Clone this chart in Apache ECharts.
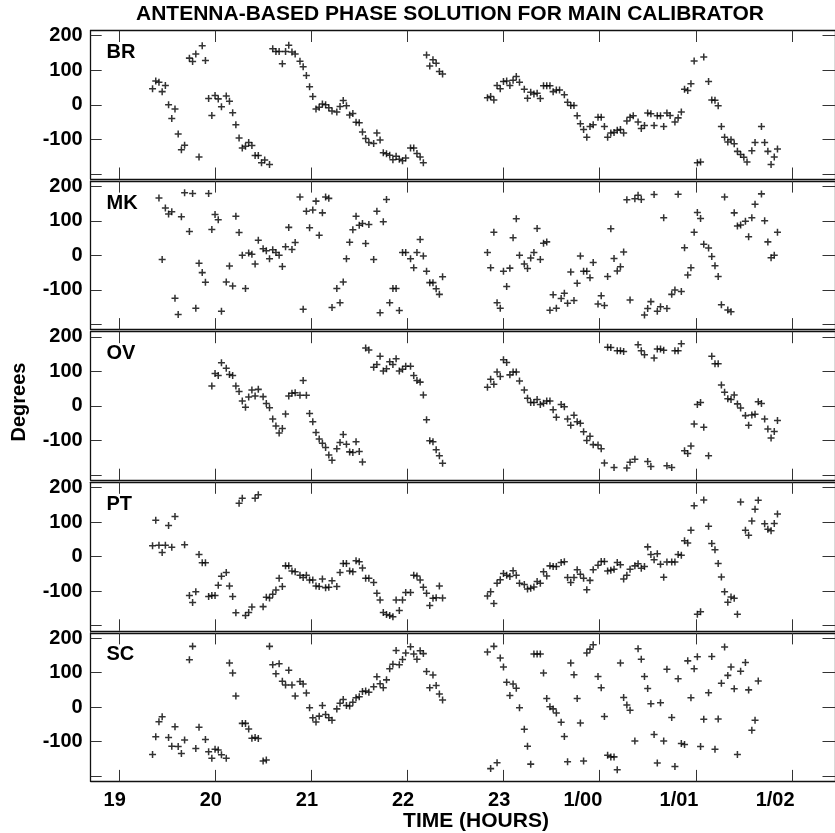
<!DOCTYPE html>
<html>
<head>
<meta charset="utf-8">
<script src="https://cdn.jsdelivr.net/npm/echarts@6/dist/echarts.min.js"></script>
<style>
html,body{margin:0;padding:0;background:#fff;}
#chart{width:835px;height:833px;}
</style>
</head>
<body>
<div id="chart"></div>
<script>
// ---- data (time = minutes after 19:00, phase = degrees) ----
const ANTENNAS = ['BR', 'MK', 'OV', 'PT', 'SC'];
const HOUR_TICKS = [0, 60, 120, 180, 240, 300, 360, 420];
const HOUR_LABELS = ['19', '20', '21', '22', '23', '1/00', '1/01', '1/02'];
const PHASE_TICKS = [-200, -100, 0, 100, 200];
const PHASE_LABELS = [-100, 0, 100, 200];

const BR = [[21,46],[23,69],[25,65],[27,38],[29,56],[31,0],[33,-40],[35,-12],[37,-85],[39,-130],[41,-117],[44,135],[46,125],[48,147],[50,-151],[52,171],[54,128],[56,18],[58,-31],[60,27],[62,17],[64,-6],[67,25],[69,10],[71,-23],[73,-58],[75,-96],[77,-125],[79,-120],[81,-109],[83,-118],[85,-147],[87,-147],[89,-168],[91,-160],[94,-173],[96,162],[98,154],[100,154],[102,119],[104,154],[106,172],[108,153],[110,147],[113,126],[115,110],[117,85],[119,52],[121,24],[123,-12],[125,-7],[127,2],[129,0],[131,-9],[133,-18],[136,-21],[138,-5],[140,12],[142,-3],[144,-30],[146,-25],[148,-51],[150,-52],[152,-79],[154,-98],[156,-109],[159,-112],[161,-82],[163,-102],[165,-139],[167,-142],[169,-146],[171,-159],[173,-149],[175,-158],[177,-162],[179,-154],[182,-125],[184,-125],[186,-141],[188,-151],[190,-168],[192,144],[194,112],[196,130],[198,120],[200,96],[202,89],
[230,20],[232,24],[234,14],[236,56],[238,46],[240,67],[242,69],[244,56],[246,71],[248,82],[250,65],[253,45],[255,19],[257,36],[259,31],[261,33],[263,18],[265,55],[267,55],[269,55],[271,38],[273,43],[275,43],[278,29],[280,7],[282,-2],[284,-2],[286,-32],[288,-55],[290,-72],[292,-94],[294,-63],[296,-58],[299,-36],[301,-36],[303,-63],[305,-94],[307,-82],[309,-80],[311,-74],[313,-72],[315,-82],[317,-47],[319,-36],[321,-32],[324,-50],[326,-69],[328,-60],[330,-24],[332,-26],[334,-60],[336,-32],[338,-32],[340,-63],[342,-24],[344,-31],[347,-50],[349,-38],[351,-21],[353,45],[355,41],[357,61],[359,127],[361,-168],[363,-166],[365,138],[368,67],[370,14],[372,13],[374,-3],[376,-63],[378,-94],[380,-108],[382,-101],[384,-113],[386,-135],[388,-144],[390,-152],[392,-166],[395,-133],[397,-109],[401,-63],[403,-109],[405,-135],[407,-173],[409,-151],[411,-128]];

const MK = [[25,166],[27,-12],[29,137],[31,120],[33,126],[35,-124],[37,-171],[39,112],[41,181],[44,69],[46,179],[48,-153],[50,-23],[52,-50],[54,-78],[56,179],[58,75],[60,118],[62,103],[64,-162],[67,-77],[69,-31],[71,-89],[73,113],[75,66],[77,0],[79,-96],[81,7],[83,3],[85,-25],[87,44],[90,19],[92,13],[94,-10],[96,16],[98,8],[100,0],[102,-32],[104,25],[106,81],[108,17],[110,37],[113,169],[115,-156],[117,128],[119,80],[121,131],[123,157],[125,58],[127,123],[129,169],[131,165],[133,-151],[136,-96],[138,-137],[140,-77],[142,-10],[144,38],[146,74],[148,113],[150,87],[152,92],[154,34],[156,89],[159,-12],[161,128],[163,-166],[165,97],[167,162],[169,-137],[171,-96],[173,-96],[175,-160],[177,8],[179,8],[182,-10],[184,-36],[186,8],[188,46],[190,-2],[192,-46],[194,-79],[196,-79],[198,-97],[200,-113],[202,-62],
[230,8],[232,-36],[234,67],[236,-137],[238,-153],[240,-46],[242,-90],[244,-37],[246,51],[248,106],[250,0],[253,-25],[255,-38],[257,-8],[259,8],[261,78],[263,-12],[265,35],[267,39],[269,-159],[271,-114],[273,-153],[276,-125],[278,-110],[280,-139],[282,-48],[284,-131],[286,-81],[288,-2],[290,-46],[292,-46],[294,-65],[296,-21],[299,-141],[301,-117],[303,-145],[305,-61],[307,77],[309,-9],[311,-45],[313,-33],[315,10],[317,161],[319,-129],[322,164],[324,174],[326,162],[328,-173],[330,-154],[332,-134],[334,176],[336,-162],[338,-149],[340,109],[342,-154],[345,-113],[347,-100],[349,177],[351,-105],[353,22],[355,-57],[357,-36],[359,67],[361,124],[363,107],[365,32],[368,21],[370,-3],[372,-30],[374,-61],[376,-143],[378,169],[380,-158],[382,-163],[384,123],[386,85],[388,88],[391,99],[393,54],[395,109],[397,148],[401,178],[403,100],[405,39],[407,-7],[409,0],[411,67]];

const OV = [[58,58],[60,94],[62,88],[64,125],[67,109],[69,91],[71,88],[73,58],[75,42],[77,14],[79,-4],[81,26],[83,46],[85,29],[87,48],[90,27],[92,7],[94,-5],[96,-38],[98,-58],[100,-78],[102,-65],[104,-23],[106,29],[108,37],[110,38],[113,31],[115,74],[117,31],[119,-22],[121,-46],[123,-77],[125,-96],[127,-108],[129,-120],[131,-142],[133,-157],[136,-124],[138,-106],[140,-83],[142,-111],[144,-133],[146,-135],[148,-104],[150,-132],[152,-162],[154,168],[156,162],[159,112],[161,120],[163,144],[165,101],[167,108],[169,128],[171,120],[173,137],[175,101],[177,106],[179,115],[182,115],[184,88],[186,74],[188,69],[190,32],[192,-40],[194,-101],[196,-104],[198,-127],[200,-144],[202,-166],
[230,54],[232,77],[234,63],[236,98],[238,85],[240,134],[242,126],[244,90],[246,98],[248,98],[250,72],[253,46],[255,22],[257,10],[259,10],[261,19],[263,4],[265,8],[267,14],[269,14],[271,-11],[273,-33],[276,4],[278,-2],[280,-38],[282,-56],[284,-27],[286,-46],[288,-50],[290,-75],[292,-100],[294,-88],[296,-112],[299,-113],[301,-124],[303,-165],[305,170],[307,169],[309,-178],[311,160],[313,160],[315,158],[317,-180],[319,-163],[322,-154],[324,177],[326,160],[328,148],[330,-161],[332,-175],[334,139],[336,165],[338,165],[340,161],[342,-173],[345,-178],[347,160],[349,160],[351,180],[353,-130],[355,-138],[357,-116],[359,-52],[361,4],[363,10],[365,-62],[368,-144],[370,144],[372,122],[374,122],[376,61],[378,40],[380,21],[382,19],[384,32],[386,6],[388,-6],[391,-28],[393,-56],[395,-26],[397,-24],[399,12],[401,7],[403,-38],[405,-67],[407,-93],[409,-74],[411,-42]];

const PT = [[21,31],[23,105],[25,33],[27,12],[29,33],[31,90],[33,27],[35,116],[41,34],[44,-113],[46,-133],[48,-102],[50,6],[52,-18],[54,-18],[56,-116],[58,-113],[60,-113],[62,-83],[64,-57],[67,-46],[69,-85],[71,-116],[73,-163],[75,154],[77,169],[79,-171],[81,-162],[83,-146],[85,169],[87,179],[90,-145],[92,-118],[94,-120],[96,-109],[98,-97],[100,-63],[102,-87],[104,-27],[106,-27],[108,-42],[110,-44],[113,-54],[115,-61],[117,-54],[119,-68],[121,-68],[123,-85],[125,-87],[127,-65],[129,-90],[131,-89],[133,-70],[136,-87],[138,-46],[140,-20],[142,-20],[144,-42],[146,-44],[148,-12],[150,-15],[152,-33],[154,-63],[156,-63],[159,-75],[161,-106],[163,-126],[165,-162],[167,-168],[169,-171],[171,-174],[173,-126],[175,-156],[177,-126],[179,-104],[182,-104],[184,-54],[186,-56],[188,-68],[190,-89],[192,-106],[194,-142],[196,-121],[198,-119],[200,-85],[202,-120],
[230,-114],[232,-102],[234,-136],[236,-77],[238,-67],[240,-49],[242,-54],[244,-58],[246,-41],[248,-54],[250,-77],[253,-81],[255,-94],[257,-92],[259,-88],[261,-72],[263,-77],[265,-44],[267,-56],[269,-27],[271,-29],[273,-29],[276,-17],[278,-15],[280,-61],[282,-75],[284,-61],[286,-38],[288,-51],[290,-63],[292,-96],[294,-69],[296,-38],[299,-25],[301,-14],[303,-14],[305,-42],[307,-40],[309,-37],[311,-17],[313,-24],[315,-65],[317,-54],[319,-37],[322,-27],[324,-21],[326,-34],[328,-29],[330,28],[332,6],[334,-9],[336,8],[338,-22],[340,-60],[342,-16],[345,-16],[347,-16],[349,6],[351,4],[353,46],[355,39],[357,76],[359,147],[361,-167],[363,-160],[365,164],[368,88],[370,38],[372,20],[374,-20],[376,-59],[378,-102],[380,-132],[382,-117],[384,-121],[386,-167],[388,158],[391,76],[393,62],[395,103],[397,137],[399,163],[403,95],[405,79],[407,75],[409,96],[411,123]];

const SC = [[21,-137],[23,-86],[25,-42],[27,-28],[31,-88],[33,-113],[35,-57],[37,-114],[39,-134],[41,-95],[44,137],[46,176],[48,-120],[50,-58],[54,-94],[56,-129],[58,-148],[60,-122],[62,-124],[64,-138],[67,-148],[69,128],[71,99],[73,32],[77,-47],[79,-47],[81,-63],[83,-90],[85,-88],[87,-91],[90,-156],[92,-153],[94,176],[96,123],[98,97],[100,126],[102,75],[104,64],[106,107],[108,64],[110,32],[113,74],[115,67],[117,41],[119,-2],[121,-31],[123,-43],[125,-26],[127,5],[129,-21],[131,-31],[133,-38],[136,-5],[138,11],[140,22],[142,5],[144,3],[146,14],[148,27],[150,30],[152,45],[154,47],[156,43],[159,59],[161,88],[163,68],[165,56],[167,79],[169,111],[171,124],[173,164],[175,123],[177,138],[179,157],[182,175],[184,154],[186,139],[188,163],[190,155],[192,103],[194,56],[196,93],[198,63],[200,38],[202,21],
[230,160],[232,-178],[234,176],[236,-161],[238,142],[240,116],[242,72],[244,34],[246,67],[248,55],[250,-2],[253,-64],[255,-113],[257,-165],[259,154],[261,154],[263,154],[265,99],[267,25],[269,1],[271,-5],[273,-17],[276,-44],[278,-85],[280,-158],[282,128],[284,94],[286,25],[288,-46],[290,-156],[292,157],[294,168],[296,181],[299,89],[301,56],[303,-27],[305,-139],[307,-144],[309,-144],[311,-181],[313,128],[315,28],[317,6],[319,-9],[322,-98],[324,169],[326,139],[328,89],[330,54],[332,10],[334,-79],[336,-162],[338,13],[340,-98],[342,110],[345,-30],[347,-172],[349,82],[351,-105],[353,-108],[355,134],[357,27],[359,111],[361,146],[363,-114],[365,-35],[368,42],[370,147],[372,-122],[374,-34],[376,69],[378,174],[380,92],[382,116],[384,53],[386,-137],[388,104],[391,129],[393,50],[395,-67],[397,-38],[399,76]];

const SERIES_DATA = [BR, MK, OV, PT, SC];

// ---- layout ----
const FONT = '"Liberation Sans", Arial, Helvetica, sans-serif';
const LEFT = 90.7, WIDTH = 746.8, TOP0 = 30.5, PITCH = 150.6, H = 148.5;
const XMIN = -17.6, XMAX = 446.9, YMIN = -215, YMAX = 215;
const LINE = {color: '#111', width: 1.3};
const TICK = {color: '#333', width: 1};
const PLUS = 'path://M2.35,0H3.65V2.35H6V3.65H3.65V6H2.35V3.65H0V2.35H2.35Z';

const grids = [], xAxes = [], yAxes = [], series = [], graphics = [];
ANTENNAS.forEach((name, i) => {
  const top = TOP0 + PITCH * i;
  grids.push({left: LEFT, top: top, width: WIDTH, height: H});
  const last = i === ANTENNAS.length - 1;
  xAxes.push({
    type: 'value', gridIndex: i, position: 'bottom', min: XMIN, max: XMAX,
    axisLine: {show: true, onZero: false, lineStyle: LINE},
    axisTick: {show: true, inside: true, length: 11.5, lineStyle: TICK, customValues: HOUR_TICKS},
    splitLine: {show: false},
    axisLabel: {
      show: last, margin: 9, customValues: HOUR_TICKS,
      formatter: v => {
        const lab = HOUR_LABELS[HOUR_TICKS.indexOf(Math.round(v))] || '';
        return lab.length > 2 ? '{b|' + lab + '}' : '{a|' + lab + '}';
      },
      rich: {
        a: {fontSize: 20, fontWeight: 'bold', fontFamily: FONT, color: '#000', padding: [0, 8.5, 0, 0]},
        b: {fontSize: 20, fontWeight: 'bold', fontFamily: FONT, color: '#000', padding: [0, 33.5, 0, 0]}
      }
    }
  });
  xAxes.push({
    type: 'value', gridIndex: i, position: 'top', min: XMIN, max: XMAX,
    axisLine: {show: true, onZero: false, lineStyle: LINE},
    axisTick: {show: true, inside: true, length: 11.5, lineStyle: TICK, customValues: HOUR_TICKS},
    splitLine: {show: false}, axisLabel: {show: false}
  });
  yAxes.push({
    type: 'value', gridIndex: i, position: 'left', min: YMIN, max: YMAX,
    axisLine: {show: true, onZero: false, lineStyle: LINE},
    axisTick: {show: true, inside: true, length: 11, lineStyle: TICK, customValues: PHASE_TICKS},
    splitLine: {show: false},
    axisLabel: {show: true, margin: 8, customValues: PHASE_LABELS, fontSize: 20, fontWeight: 'bold', fontFamily: FONT, color: '#000'}
  });
  yAxes.push({
    type: 'value', gridIndex: i, position: 'right', min: YMIN, max: YMAX,
    axisLine: {show: true, onZero: false, lineStyle: LINE},
    axisTick: {show: true, inside: true, length: 12.5, lineStyle: TICK, customValues: PHASE_TICKS},
    splitLine: {show: false}, axisLabel: {show: false}
  });
  series.push({
    type: 'scatter', name: name, xAxisIndex: 2 * i, yAxisIndex: 2 * i,
    data: SERIES_DATA[i], symbol: PLUS, symbolSize: 7,
    itemStyle: {color: '#000'}, silent: true
  });
  graphics.push({
    type: 'text', x: 106.5, y: top + 22,
    style: {text: name, font: 'bold 20px ' + FONT, fill: '#000', align: 'left', verticalAlign: 'middle', textAlign: 'left', textVerticalAlign: 'middle'}
  });
});

graphics.push({
  type: 'text', x: 450, y: 14,
  style: {text: 'ANTENNA-BASED PHASE SOLUTION FOR MAIN CALIBRATOR', font: 'bold 21px ' + FONT, fill: '#000', align: 'center', verticalAlign: 'middle', textAlign: 'center', textVerticalAlign: 'middle'}
});
graphics.push({
  type: 'text', x: 476, y: 821,
  style: {text: 'TIME (HOURS)', font: 'bold 21px ' + FONT, fill: '#000', align: 'center', verticalAlign: 'middle', textAlign: 'center', textVerticalAlign: 'middle'}
});
graphics.push({
  type: 'text', x: 19.5, y: 402, rotation: Math.PI / 2,
  style: {text: 'Degrees', font: 'bold 20px ' + FONT, fill: '#000', align: 'center', verticalAlign: 'middle', textAlign: 'center', textVerticalAlign: 'middle'}
});

const chart = echarts.init(document.getElementById('chart'), null, {renderer: 'canvas'});
chart.setOption({
  animation: false,
  backgroundColor: '#fff',
  grid: grids, xAxis: xAxes, yAxis: yAxes, series: series,
  graphic: graphics
});
</script>
</body>
</html>
